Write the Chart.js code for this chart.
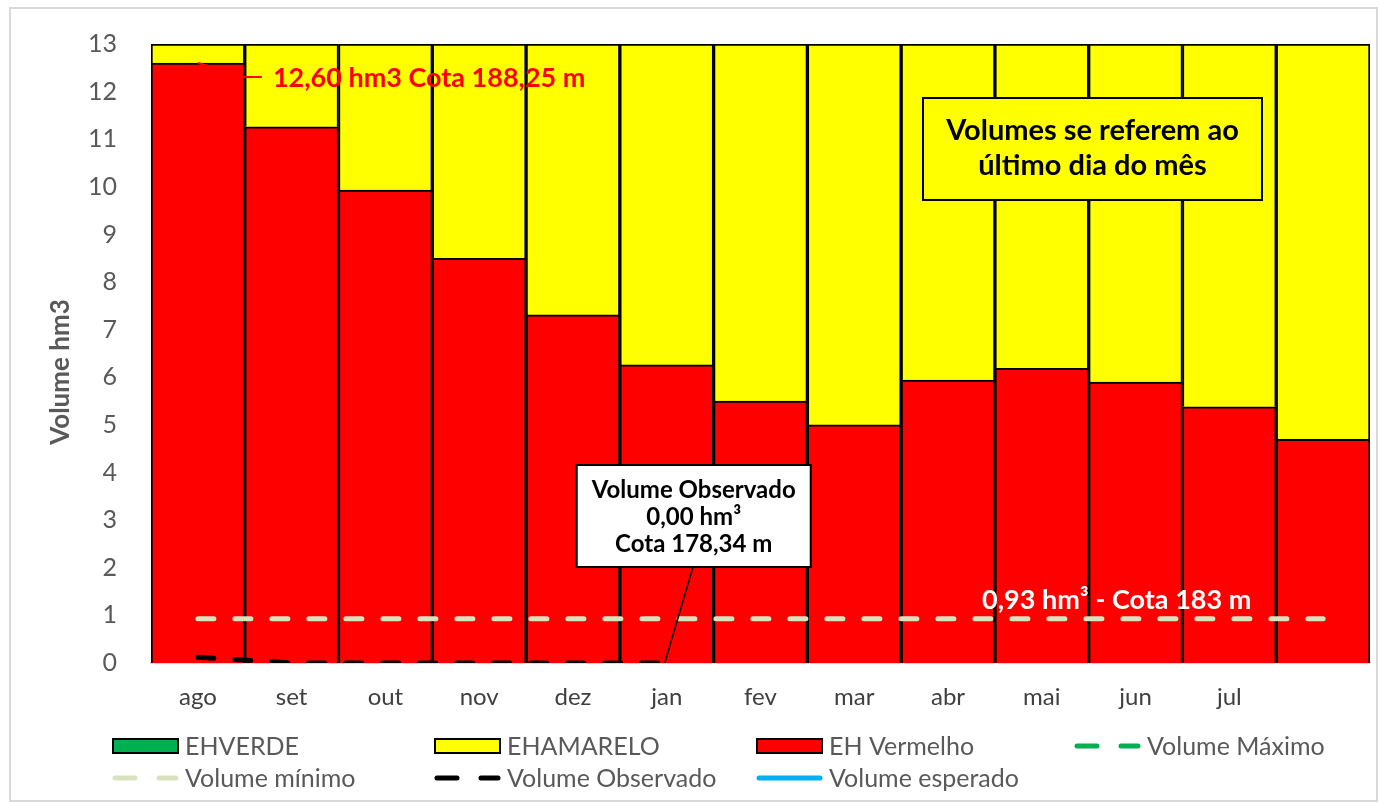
<!DOCTYPE html>
<html>
<head>
<meta charset="utf-8">
<script src="https://cdn.jsdelivr.net/npm/chart.js@4.4.1/dist/chart.umd.min.js"></script>
<style>
  html, body { margin: 0; padding: 0; background: #fff; }
  #wrap { width: 1380px; height: 803px; position: relative; }
</style>
</head>
<body>
<div id="wrap"><canvas id="myChart"></canvas></div>
<script>
// data
const months = ['ago', 'set', 'out', 'nov', 'dez', 'jan', 'fev', 'mar', 'abr', 'mai', 'jun', 'jul', ''];
const ehVermelho = [12.6, 11.26, 9.93, 8.5, 7.31, 6.26, 5.5, 5.0, 5.94, 6.19, 5.9, 5.38, 4.7];
const ehAmarelo = [0.4, 1.74, 3.07, 4.5, 5.69, 6.74, 7.5, 8.0, 7.06, 6.81, 7.1, 7.62, 8.3];
const ehVerde = [0, 0, 0, 0, 0, 0, 0, 0, 0, 0, 0, 0, 0];
const volMinimo = [0.93, 0.93, 0.93, 0.93, 0.93, 0.93, 0.93, 0.93, 0.93, 0.93, 0.93, 0.93, 0.93];
const volObservado = [0.12, 0, 0, 0, 0, 0, null, null, null, null, null, null, null];
const volMaximo = [null, null, null, null, null, null, null, null, null, null, null, null, null];
const volEsperado = [null, null, null, null, null, null, null, null, null, null, null, null, null];
const yTicks = [0, 1, 2, 3, 4, 5, 6, 7, 8, 9, 10, 11, 12, 13];

const FONT = 'Lato, "Open Sans", sans-serif';
const DASH = [16, 21];

// legend entries, drawn by hand in 4 columns
const legendItems = [
  { text: 'EHVERDE', type: 'box', color: '#00b050' },
  { text: 'EHAMARELO', type: 'box', color: '#ffff00' },
  { text: 'EH Vermelho', type: 'box', color: '#ff0000' },
  { text: 'Volume Máximo', type: 'dash', color: '#00b050' },
  { text: 'Volume mínimo', type: 'dash', color: '#d8e2bd' },
  { text: 'Volume Observado', type: 'dash', color: '#000000' },
  { text: 'Volume esperado', type: 'line', color: '#00b0f0' }
];

const extras = {
  id: 'extras',
  beforeDraw(chart) {
    const c = chart.ctx;
    c.save();
    c.strokeStyle = '#d9d9d9';
    c.lineWidth = 2;
    c.strokeRect(10, 8, 1367, 793);
    c.restore();
  },
  afterDatasetsDraw(chart) {
    const c = chart.ctx;
    const x = chart.scales.x, y = chart.scales.y;
    c.save();

    // label of the first red bar
    const px = x.getPixelForValue(0), py = y.getPixelForValue(ehVermelho[0]);
    c.strokeStyle = '#ff0000';
    c.lineWidth = 2;
    c.beginPath();
    c.moveTo(px, py);
    c.lineTo(px + 47, py + 14);
    c.lineTo(px + 64, py + 14);
    c.stroke();
    c.fillStyle = '#ff0000';
    c.font = 'bold 27px ' + FONT;
    c.textAlign = 'left';
    c.textBaseline = 'middle';
    c.fillText('12,60 hm3 Cota 188,25 m', px + 75, py + 15);

    // volume minimo label
    const my = y.getPixelForValue(0.93);
    c.fillStyle = '#ffffff';
    c.font = 'bold 27px ' + FONT;
    c.textAlign = 'center';
    c.fillText('0,93 hm³ - Cota 183 m', (x.getPixelForValue(9) + x.getPixelForValue(10)) / 2 + 28, my - 18);

    // observado callout
    const ox = x.getPixelForValue(5), oy = y.getPixelForValue(0);
    c.strokeStyle = '#000000';
    c.lineWidth = 1.5;
    c.beginPath();
    c.moveTo(ox - 2, oy);
    c.lineTo(ox + 26, oy - 95);
    c.stroke();
    const bx = ox - 90, by = oy - 198, bw = 234, bh = 102;
    c.fillStyle = '#ffffff';
    c.fillRect(bx, by, bw, bh);
    c.lineWidth = 2;
    c.strokeRect(bx, by, bw, bh);
    c.fillStyle = '#000000';
    c.font = 'bold 24px ' + FONT;
    c.fillText('Volume Observado', bx + bw / 2, by + 25);
    c.fillText('0,00 hm³', bx + bw / 2, by + 52);
    c.fillText('Cota 178,34 m', bx + bw / 2, by + 79);

    // note box
    const nx = 923, ny = 98, nw = 339, nh = 102;
    c.fillStyle = '#ffff00';
    c.fillRect(nx, ny, nw, nh);
    c.strokeStyle = '#000000';
    c.lineWidth = 2;
    c.strokeRect(nx, ny, nw, nh);
    c.fillStyle = '#000000';
    c.font = 'bold 29px ' + FONT;
    c.fillText('Volumes se referem ao', nx + nw / 2, ny + 33);
    c.fillText('último dia do mês', nx + nw / 2, ny + 68);

    // axis title
    c.translate(61, 372);
    c.rotate(-Math.PI / 2);
    c.fillStyle = '#595959';
    c.font = 'bold 26px ' + FONT;
    c.fillText('Volume hm3', 0, 0);
    c.restore();
  },
  afterDraw(chart) {
    const c = chart.ctx;
    const cols = [113, 435, 757, 1075];
    const rows = [746, 778];
    c.save();
    c.font = '25px ' + FONT;
    c.textBaseline = 'middle';
    c.textAlign = 'left';
    legendItems.forEach((it, i) => {
      const lx = cols[i % 4], ly = rows[Math.floor(i / 4)];
      if (it.type === 'box') {
        c.fillStyle = it.color;
        c.fillRect(lx, ly - 7, 65, 14);
        c.strokeStyle = '#000';
        c.lineWidth = 2;
        c.strokeRect(lx, ly - 7, 65, 14);
      } else {
        c.strokeStyle = it.color;
        c.lineWidth = 5;
        c.lineCap = 'round';
        c.setLineDash(it.type === 'dash' ? [20, 24] : []);
        c.beginPath();
        c.moveTo(lx + 2, ly);
        c.lineTo(lx + 63, ly);
        c.stroke();
        c.setLineDash([]);
      }
      c.fillStyle = '#595959';
      c.fillText(it.text, lx + 72, ly + 1);
    });
    c.restore();
  }
};

const ctx = document.getElementById('myChart');

new Chart(ctx, {
  type: 'bar',
  data: {
    labels: months,
    datasets: [
      { label: 'EH Vermelho', data: ehVermelho, backgroundColor: '#ff0000', borderColor: '#000', borderWidth: 2, stack: 'bars', order: 2 },
      { label: 'EHAMARELO', data: ehAmarelo, backgroundColor: '#ffff00', borderColor: '#000', borderWidth: 2, stack: 'bars', order: 2 },
      { label: 'EHVERDE', data: ehVerde, backgroundColor: '#00b050', borderColor: '#000', borderWidth: 0, stack: 'bars', order: 2 },
      { type: 'line', label: 'Volume Máximo', data: volMaximo, borderColor: '#00b050', borderWidth: 5, borderDash: DASH, borderCapStyle: 'round', pointRadius: 0, stack: 'max', order: 1 },
      { type: 'line', label: 'Volume mínimo', data: volMinimo, borderColor: '#d8e2bd', borderWidth: 5, borderDash: DASH, borderCapStyle: 'round', pointRadius: 0, stack: 'min', order: 1 },
      { type: 'line', label: 'Volume Observado', data: volObservado, borderColor: '#000000', borderWidth: 5, borderDash: DASH, borderCapStyle: 'round', pointRadius: 0, stack: 'obs', order: 1 },
      { type: 'line', label: 'Volume esperado', data: volEsperado, borderColor: '#00b0f0', borderWidth: 4, pointRadius: 0, stack: 'esp', order: 1 }
    ]
  },
  options: {
    responsive: true,
    maintainAspectRatio: false,
    animation: false,
    layout: { padding: { left: 0, right: 10, top: 44, bottom: 80 } },
    datasets: { bar: { barPercentage: 1, categoryPercentage: 1, borderSkipped: 'start' } },
    plugins: { legend: { display: false }, tooltip: { enabled: false } },
    scales: {
      x: {
        stacked: true,
        grid: { display: false },
        border: { color: '#d9d9d9', width: 2 },
        ticks: { color: '#404040', font: { family: FONT, size: 24 }, padding: 12, maxRotation: 0 },
        afterFit(scale) { scale.height = 60; }
      },
      y: {
        stacked: true,
        min: 0,
        max: 13,
        grid: { display: false },
        border: { display: false },
        afterBuildTicks(scale) { scale.ticks = yTicks.map(v => ({ value: v })); },
        ticks: { color: '#595959', font: { family: FONT, size: 25 }, padding: 26 },
        afterFit(scale) { scale.width = 151; }
      }
    }
  },
  plugins: [extras]
});
</script>
</body>
</html>
